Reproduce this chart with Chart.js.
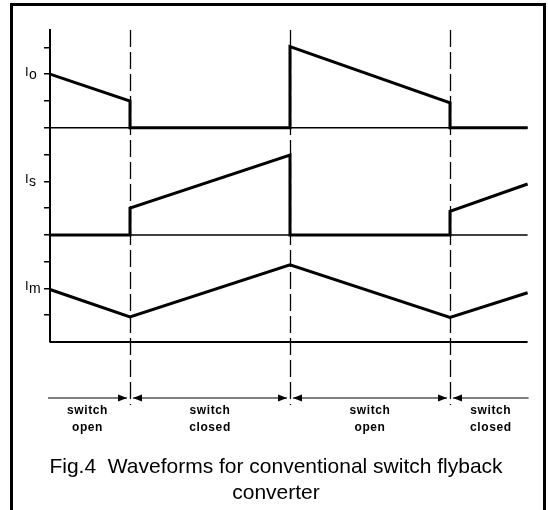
<!DOCTYPE html>
<html>
<head>
<meta charset="utf-8">
<script src="https://cdn.jsdelivr.net/npm/chart.js@4"></script>
<style>
    html, body { margin: 0; padding: 0; background: #ffffff; }
    #box { width: 548px; height: 510px; }
</style>
</head>
<body>
<div id="box"><canvas id="grafico"></canvas></div>
<script>

// ==========================
// DADOS
// ==========================
const tempoFim = 5.97;

const trocas = [1, 3, 5];

const fases = [
    ["switch", "open"],
    ["switch", "closed"],
    ["switch", "open"],
    ["switch", "closed"]
];

const ioTempo   = [0, 1, 1, 3, 3, 5, 5, tempoFim];
const ioValores = [10, 9, 8, 8, 11.03, 8.93, 8, 8];

const isTempo   = [0, 1, 1, 3, 3, 5, 5, tempoFim];
const isValores = [4, 4, 5, 6.98, 4, 4, 4.88, 5.9];

const imTempo   = [0, 1, 3, 5, tempoFim];
const imValores = [1.96, 0.94, 2.88, 0.92, 1.84];

const linhasBase = [8, 4, 0];

const rotulosY = [
    { valor: 10, base: "I", sub: "o" },
    { valor: 6,  base: "I", sub: "s" },
    { valor: 2,  base: "I", sub: "m" }
];

const legenda = [
    "Fig.4  Waveforms for conventional switch flyback",
    "converter"
];

function pontos(xs, ys){
    return xs.map((x, i) => ({ x: x, y: ys[i] }));
}

// ==========================
// DATASETS
// ==========================
const datasets = [];

linhasBase.forEach(v => {
    datasets.push({
        data: pontos([0, tempoFim], [v, v]),
        borderColor: "#000000",
        borderWidth: v === 0 ? 2 : 1.5,
        pointRadius: 0,
        clip: false
    });
});

[[ioTempo, ioValores], [isTempo, isValores], [imTempo, imValores]].forEach(par => {
    datasets.push({
        data: pontos(par[0], par[1]),
        borderColor: "#000000",
        borderWidth: 3,
        pointRadius: 0,
        borderJoinStyle: "miter",
        clip: false
    });
});

// ==========================
// PLUGIN DESENHO EXTRA
// ==========================
function seta(ctx, x, y, dir){
    ctx.beginPath();
    ctx.moveTo(x, y);
    ctx.lineTo(x - dir * 9, y - 3.5);
    ctx.lineTo(x - dir * 9, y + 3.5);
    ctx.closePath();
    ctx.fill();
}

const extras = {
    id: "extras",

    beforeDraw(chart){
        const ctx = chart.ctx;
        ctx.save();
        ctx.fillStyle = "#ffffff";
        ctx.fillRect(0, 0, chart.width, chart.height);
        ctx.restore();
    },

    afterDraw(chart){
        const ctx = chart.ctx;
        const xs = chart.scales.x;
        const ys = chart.scales.y;
        const area = chart.chartArea;

        ctx.save();

        // moldura
        ctx.strokeStyle = "#000000";
        ctx.lineWidth = 3;
        ctx.strokeRect(11.5, 4.5, 533, 510);

        // linhas tracejadas
        ctx.lineWidth = 1.3;
        ctx.setLineDash([17, 5]);
        trocas.forEach(t => {
            const px = Math.round(xs.getPixelForValue(t)) + 0.5;
            ctx.beginPath();
            ctx.moveTo(px, area.top);
            ctx.lineTo(px, 405);
            ctx.stroke();
        });
        ctx.setLineDash([]);

        // setas
        const yS = 398;
        const limites = [0].concat(trocas).concat([tempoFim]);
        ctx.fillStyle = "#000000";
        ctx.lineWidth = 1.2;

        for(let i = 0; i < fases.length; i++){
            const a = xs.getPixelForValue(limites[i]);
            const b = xs.getPixelForValue(limites[i + 1]);
            const x1 = i === 0 ? a - 2 : a + 3;
            const x2 = i === fases.length - 1 ? b + 1 : b - 3;

            ctx.beginPath();
            ctx.moveTo(x1, yS);
            ctx.lineTo(x2, yS);
            ctx.stroke();

            if(i > 0) seta(ctx, x1, yS, -1);
            if(i < fases.length - 1) seta(ctx, x2, yS, 1);

            const meio = (x1 + x2) / 2;
            ctx.font = "bold 12px 'Liberation Sans', Arial, sans-serif";
            ctx.letterSpacing = "0.6px";
            ctx.textAlign = "center";
            ctx.textBaseline = "alphabetic";
            ctx.fillText(fases[i][0], meio, 414);
            ctx.fillText(fases[i][1], meio, 431);
        }
        ctx.letterSpacing = "0px";

        // rotulos do eixo
        rotulosY.forEach(r => {
            const py = ys.getPixelForValue(r.valor);
            ctx.textAlign = "left";
            ctx.font = "13px 'Liberation Sans', Arial, sans-serif";
            ctx.fillText(r.base, 25, py + 2);
            ctx.font = "14px 'Liberation Sans', Arial, sans-serif";
            ctx.fillText(r.sub, 29, py + 5);
        });

        ctx.restore();
    }
};

// ==========================
// GRAFICO
// ==========================
new Chart(document.getElementById("grafico"), {

    type: "line",

    data: { datasets: datasets },

    options: {

        responsive: true,
        maintainAspectRatio: false,
        animation: false,

        layout: {
            padding: { top: 30, left: 24, right: 20, bottom: 4 }
        },

        scales: {

            x: {
                type: "linear",
                display: false,
                min: 0,
                max: 5.975
            },

            y: {
                min: 0,
                max: 11.65,
                afterFit: function(scale){
                    scale.width = 26;
                },
                ticks: {
                    display: false,
                    stepSize: 1,
                    includeBounds: false
                },
                grid: {
                    drawOnChartArea: false,
                    drawTicks: true,
                    tickLength: 6,
                    lineWidth: 1.5,
                    color: c => c.tick && c.tick.value === 0 ? "rgba(0,0,0,0)" : "#000000"
                },
                border: {
                    display: true,
                    color: "#000000",
                    width: 2
                }
            }
        },

        plugins: {

            legend: { display: false },

            tooltip: { enabled: false },

            title: {
                display: true,
                position: "bottom",
                text: legenda,
                color: "#000000",
                font: {
                    family: "'Liberation Sans', Arial, sans-serif",
                    size: 21,
                    weight: "normal",
                    lineHeight: 26 / 21
                },
                padding: { top: 112, bottom: 0 }
            }
        }
    },

    plugins: [extras]
});
</script>
</body>
</html>
